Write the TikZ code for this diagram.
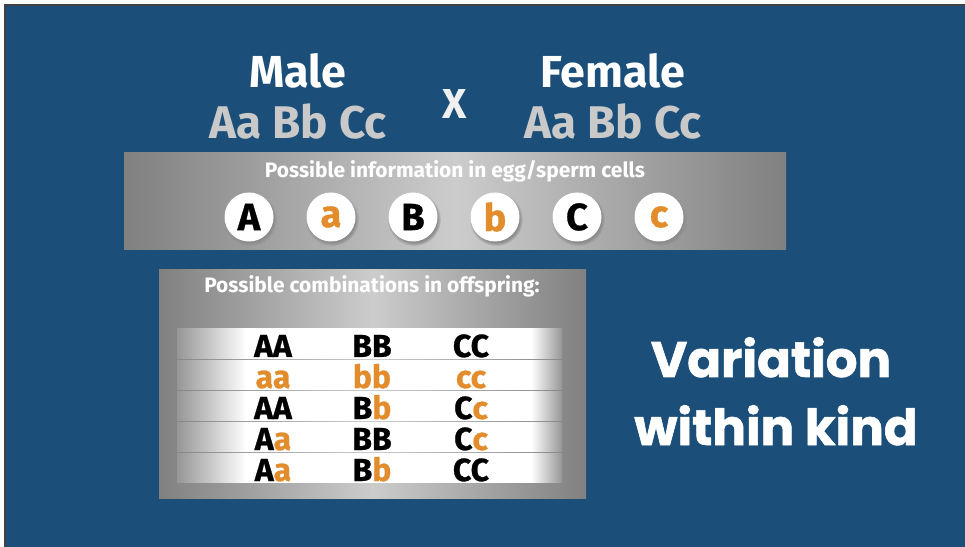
\documentclass[tikz,border=0pt]{standalone}
\usepackage{fontspec}
\setmainfont{Fira Sans}
\newfontfamily\kindfont{Poppins}[BoldFeatures={FakeBold=1.2}]
\newfontfamily\pairfont{Fira Sans}[BoldFeatures={FakeBold=0.8}]
\usetikzlibrary{shadows}

\definecolor{slideblue}{RGB}{27,79,121}
\definecolor{allele}{RGB}{226,140,44}
\definecolor{genogray}{RGB}{201,201,201}
\definecolor{bandedge}{RGB}{128,128,128}
\definecolor{bandmid}{RGB}{204,204,204}
\definecolor{stripedge}{RGB}{150,150,150}
\newcommand{\recessive}[1]{\textcolor{allele}{#1}}
\pgfdeclarehorizontalshading{stripfade}{100bp}{color(0bp)=(stripedge); color(25bp)=(stripedge);
  color(34bp)=(white); color(71bp)=(white); color(75bp)=(stripedge); color(100bp)=(stripedge)}

\tikzset{
  parent/.style={anchor=base, text=white, font=\bfseries\fontsize{45}{45}\selectfont},
  genotype/.style={anchor=base, text=genogray, font=\bfseries\fontsize{46}{46}\selectfont},
  caption/.style={anchor=base, text=white, font=\bfseries\fontsize{21}{21}\selectfont},
  gamete/.style={circle, fill=white, minimum size=49bp, inner sep=0pt,
    circular drop shadow={shadow xshift=1bp, shadow yshift=-2bp, fill=black!45},
    font=\pairfont\bfseries\fontsize{38}{38}\selectfont},
  pair/.style={anchor=base, text=black, font=\pairfont\bfseries\fontsize{32}{32}\selectfont},
  kind/.style={anchor=base, text=white, font=\kindfont\bfseries\fontsize{50}{50}\selectfont}
}

\begin{document}
\begin{tikzpicture}[x=1bp, y=-1bp]
\useasboundingbox (0,0) rectangle (965,547);
% Slide
\fill[white] (0,0) rectangle (965,547);
\fill[slideblue] (5,5) rectangle (965,547);
\draw[black!75, line width=1.5bp] (5,547) -- (5,5) -- (965,5);

% Parents
\node[parent] (male) at (298,88) {Male};
\node[genotype] (male geno) at (298,139) {Aa Bb Cc};
\node[parent, text=white!88!gray, font=\bfseries\fontsize{42}{42}\selectfont] (cross) at (455,119) {X};
\node[parent] (female) at (613,88) {Female};
\node[genotype] (female geno) at (613,139) {Aa Bb Cc};

% Egg / sperm cells
\shade[left color=bandedge, right color=bandedge, middle color=bandmid] (124,153) rectangle (786,250);
\node[caption] (gamete title) at (455,178) {Possible information in egg/sperm cells};
\foreach \ltr/\col [count=\i from 0] in {A/black, a/allele, B/black, b/allele, C/black, c/allele}
  \node[gamete, text=\col] (gamete-\ltr) at (249+82*\i,217) {\ltr};

% Offspring
\shade[left color=bandedge, right color=bandedge, middle color=bandmid] (159,270) rectangle (586,498);
\node[caption] (offspring title) at (372,293) {Possible combinations in offspring:};
\foreach \r in {0,...,4}
  \shade[shading=stripfade] (177,329+31*\r) rectangle (562,358+31*\r);
\foreach \one/\two/\three [count=\r from 0] in {AA/BB/CC,
    \recessive{aa}/\recessive{bb}/\recessive{cc},
    AA/B\recessive{b}/C\recessive{c},
    A\recessive{a}/BB/C\recessive{c},
    A\recessive{a}/B\recessive{b}/CC} {
  \node[pair] (pair-\r-a) at (273,357+31*\r) {\one};
  \node[pair] (pair-\r-b) at (372,357+31*\r) {\two};
  \node[pair] (pair-\r-c) at (471,357+31*\r) {\three};
}

% Variation
\node[kind] (variation) at (771,377) {Variation};
\node[kind] (within) at (776,445) {within kind};
\end{tikzpicture}
\end{document}
